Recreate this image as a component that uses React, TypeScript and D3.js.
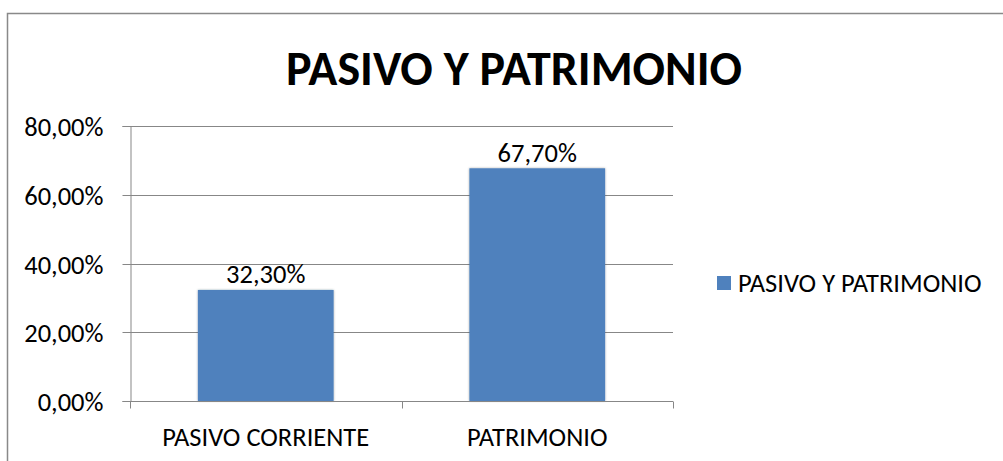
import { useEffect, useRef } from 'react';
import * as d3 from 'd3';

const categories = ['PASIVO CORRIENTE', 'PATRIMONIO'];
const values = [32.3, 67.7];
const yTicks = [0, 20, 40, 60, 80];
const seriesName = 'PASIVO Y PATRIMONIO';
const title = 'PASIVO Y PATRIMONIO';

const W = 1003;
const H = 461;
const FONT = 'Carlito, Lato, "Open Sans", sans-serif';
const FS = 26.5;

export default function App() {
    const svgRef = useRef<SVGSVGElement>(null);

    useEffect(() => {
        if (!svgRef.current) return;
        const svg = d3.select(svgRef.current);
        svg.selectAll('*').remove();

        const locale = d3.formatLocale({ decimal: ',', thousands: '.', grouping: [3], currency: ['', ''] });
        const pct = (v: number) => locale.format('.2f')(v) + '%';

        const plot = { left: 130, right: 673, top: 126, bottom: 401 };
        const x = d3.scaleBand<string>().domain(categories).range([plot.left, plot.right]).paddingInner(0.5).paddingOuter(0.25);
        const xb = d3.scaleBand<string>().domain(categories).range([plot.left, plot.right]);
        const y = d3.scaleLinear().domain([0, 80]).range([plot.bottom, plot.top]);

        const defs = svg.append('defs');
        const f = defs.append('filter').attr('id', 'bar-shadow').attr('x', '-10%').attr('y', '-10%').attr('width', '120%').attr('height', '120%');
        f.append('feDropShadow').attr('dx', 0).attr('dy', 0).attr('stdDeviation', 1.2)
            .attr('flood-color', '#000').attr('flood-opacity', 0.35);

        // chart frame
        svg.append('rect').attr('x', 7.5).attr('y', 13.5).attr('width', W + 20).attr('height', H + 20)
            .attr('fill', 'white').attr('stroke', '#898989').attr('stroke-width', 1.5);

        // title
        svg.append('text').attr('x', 514).attr('y', 85).attr('text-anchor', 'middle')
            .attr('font-family', FONT).attr('font-weight', 'bold').attr('font-size', 48).attr('fill', '#000')
            .text(title);

        // gridlines
        svg.append('g').selectAll('line').data(yTicks.slice(1)).join('line')
            .attr('x1', plot.left).attr('x2', plot.right)
            .attr('y1', d => Math.round(y(d)) + 0.5).attr('y2', d => Math.round(y(d)) + 0.5)
            .attr('stroke', '#878787').attr('stroke-width', 1);

        // y axis
        const yAxis = svg.append('g').attr('transform', `translate(${plot.left + 0.5},0)`)
            .call(d3.axisLeft(y).tickValues(yTicks).tickSize(8).tickPadding(19).tickFormat(d => pct(+d)));
        yAxis.select('.domain').attr('stroke', '#878787');
        yAxis.selectAll('.tick line').attr('stroke', '#878787');
        yAxis.selectAll('text').attr('font-family', FONT).attr('font-size', FS).attr('fill', '#000').attr('dy', '0.35em');
        yAxis.selectAll('.tick').attr('transform', (d: any) => `translate(0,${Math.round(y(d)) + 0.5})`);

        // bars
        svg.append('g').selectAll('rect').data(values).join('rect')
            .attr('x', (_, i) => x(categories[i])!)
            .attr('width', x.bandwidth())
            .attr('y', d => y(d))
            .attr('height', d => plot.bottom - y(d))
            .attr('fill', '#4f81bd')
            .attr('filter', 'url(#bar-shadow)');

        // x axis
        const bottomY = Math.round(plot.bottom) + 0.5;
        const xg = svg.append('g');
        xg.append('line').attr('x1', plot.left).attr('x2', plot.right).attr('y1', bottomY).attr('y2', bottomY)
            .attr('stroke', '#878787');
        const edges = [...categories.map(c => xb(c)!), plot.right];
        xg.selectAll('line.tk').data(edges).join('line').attr('class', 'tk')
            .attr('x1', d => Math.round(d) + 0.5).attr('x2', d => Math.round(d) + 0.5)
            .attr('y1', bottomY).attr('y2', bottomY + 7).attr('stroke', '#878787');
        xg.selectAll('text').data(categories).join('text')
            .attr('x', d => xb(d)! + xb.bandwidth() / 2).attr('y', 437).attr('dy', '0.35em')
            .attr('text-anchor', 'middle').attr('font-family', FONT).attr('font-size', FS).attr('fill', '#000')
            .text(d => d);

        // data labels
        svg.append('g').selectAll('text').data(values).join('text')
            .attr('x', (_, i) => x(categories[i])! + x.bandwidth() / 2)
            .attr('y', d => y(d) - 16).attr('dy', '0.35em')
            .attr('text-anchor', 'middle').attr('font-family', FONT).attr('font-size', FS).attr('fill', '#000')
            .text(d => pct(d));

        // legend
        const lg = svg.append('g').attr('transform', 'translate(717,276)');
        lg.append('rect').attr('width', 14).attr('height', 14).attr('fill', '#4f81bd');
        lg.append('text').attr('x', 21).attr('y', 7).attr('dy', '0.35em')
            .attr('font-family', FONT).attr('font-size', FS).attr('fill', '#000')
            .text(seriesName);
    }, []);

    return (
        <svg ref={svgRef} width={W} height={H}
            style={{ position: 'absolute', left: 0, top: 0, display: 'block', background: '#fff' }} />
    );
}
